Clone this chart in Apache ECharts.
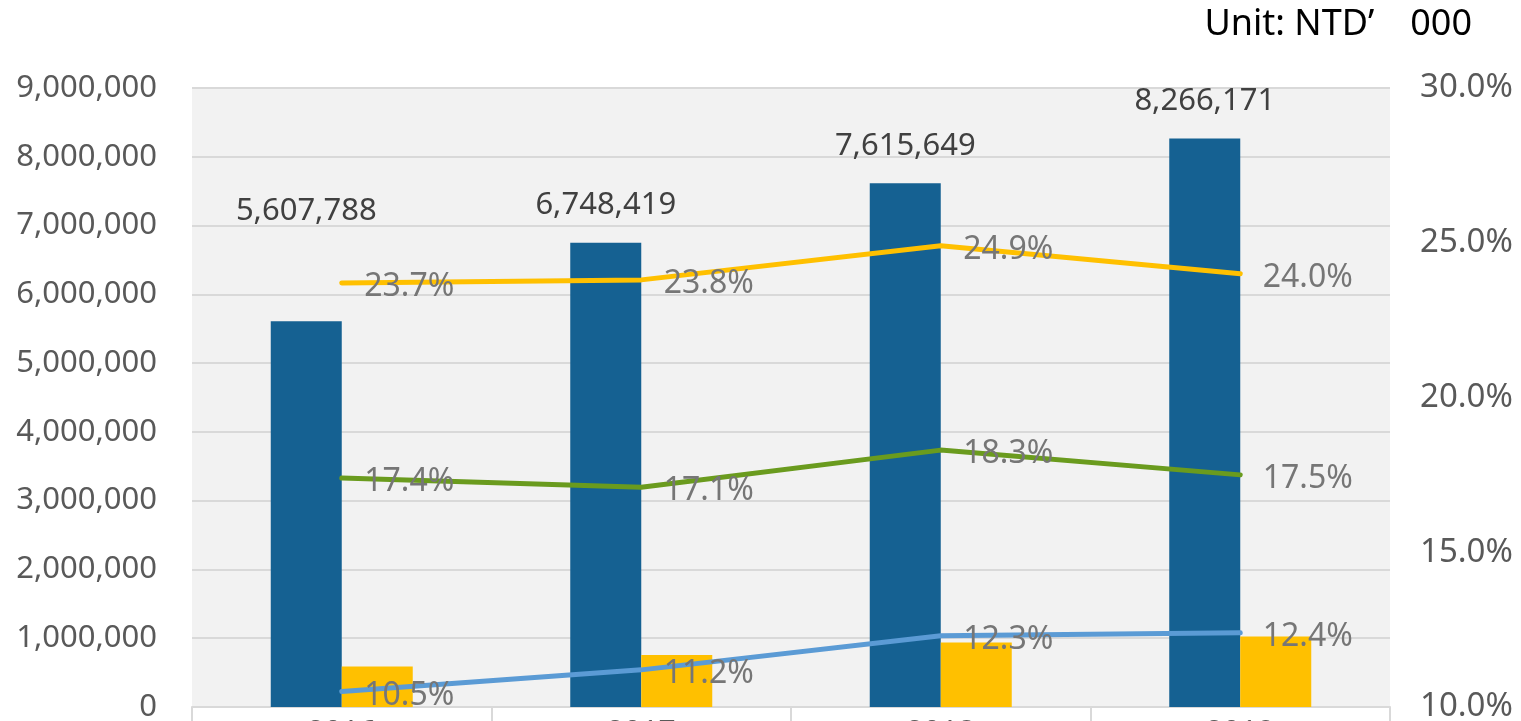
<!DOCTYPE html>
<html>
<head>
<meta charset="utf-8">
<script src="https://cdn.jsdelivr.net/npm/echarts@6/dist/echarts.min.js"></script>
<style>
  html, body { margin: 0; padding: 0; background: #fff; }
  #chart { width: 1521px; height: 721px; }
</style>
</head>
<body>
<div id="chart"></div>
<script>
// values
var years = ["2016", "2017", "2018", "2019"];
var netSales = [5607788, 6748419, 7615649, 8266171];
var netIncome = [589000, 756000, 937000, 1025000];
var grossMargin = [23.7, 23.8, 24.9, 24.0];
var opMargin = [17.4, 17.1, 18.3, 17.5];
var netMargin = [10.5, 11.2, 12.3, 12.4];

var FONT = "Noto Sans";

function commas(v) {
  return String(v).replace(/\B(?=(\d{3})+(?!\d))/g, ",");
}

var chart = echarts.init(document.getElementById("chart"));

function pctLine(name, data, color) {
  return {
    name: name,
    type: "line",
    yAxisIndex: 1,
    data: data,
    symbol: "circle",
    symbolSize: 1,
    showSymbol: true,
    z: 5,
    itemStyle: { color: color },
    lineStyle: { color: color, width: 5, cap: "round" },
    label: {
      show: true,
      position: "right",
      distance: 22,
      offset: [0, 4],
      fontFamily: FONT,
      fontSize: 32,
      color: "#767676",
      formatter: function (p) { return p.value.toFixed(1) + "%"; }
    }
  };
}

var option = {
  animation: false,
  textStyle: { fontFamily: FONT },
  grid: {
    left: 192, right: 131, top: 88, bottom: 14,
    outerBoundsMode: "none",
    containLabel: false,
    show: true, backgroundColor: "#f2f2f2", borderWidth: 0
  },
  graphic: [{
    type: "text",
    right: 49, top: 7,
    style: {
      text: "Unit: NTD\u2019\u3000000",
      fontFamily: FONT, fontSize: 36, fill: "#000"
    }
  }],
  xAxis: {
    type: "category",
    data: years,
    axisLine: { lineStyle: { color: "#d9d9d9", width: 2 } },
    axisTick: { show: true, length: 30, lineStyle: { color: "#d9d9d9", width: 2 } },
    axisLabel: { margin: 11, fontSize: 30, color: "#595959", fontFamily: FONT }
  },
  yAxis: [{
    type: "value",
    min: 0, max: 9000000, interval: 1000000,
    axisLine: { show: false },
    axisTick: { show: false },
    splitLine: { lineStyle: { color: "#d9d9d9", width: 2 } },
    axisLabel: {
      margin: 35, fontSize: 31, color: "#595959", fontFamily: FONT,
      formatter: function (v) { return commas(v); }
    }
  }, {
    type: "value",
    min: 10, max: 30, interval: 5,
    axisLine: { show: false },
    axisTick: { show: false },
    splitLine: { show: false },
    axisLabel: {
      margin: 30, fontSize: 33, color: "#595959", fontFamily: FONT,
      formatter: function (v) { return v.toFixed(1) + "%"; }
    }
  }],
  series: [{
    name: "Net Sales",
    type: "bar",
    data: netSales.map(function (v, i) {
      return i === 0 ? { value: v, label: { distance: 95 } } : v;
    }),
    barWidth: 71,
    barGap: "0%",
    itemStyle: { color: "#156192" },
    label: {
      show: true,
      position: "top",
      distance: 22,
      fontFamily: FONT,
      fontSize: 31,
      color: "#404040",
      formatter: function (p) { return commas(p.value); }
    }
  }, {
    name: "Net Income",
    type: "bar",
    data: netIncome,
    barWidth: 71,
    itemStyle: { color: "#ffc000" }
  },
    pctLine("Gross Margin", grossMargin, "#ffc000"),
    pctLine("Operating Margin", opMargin, "#6a9b1e"),
    pctLine("Net Margin", netMargin, "#5b9bd5")
  ]
};

chart.setOption(option);
</script>
</body>
</html>
